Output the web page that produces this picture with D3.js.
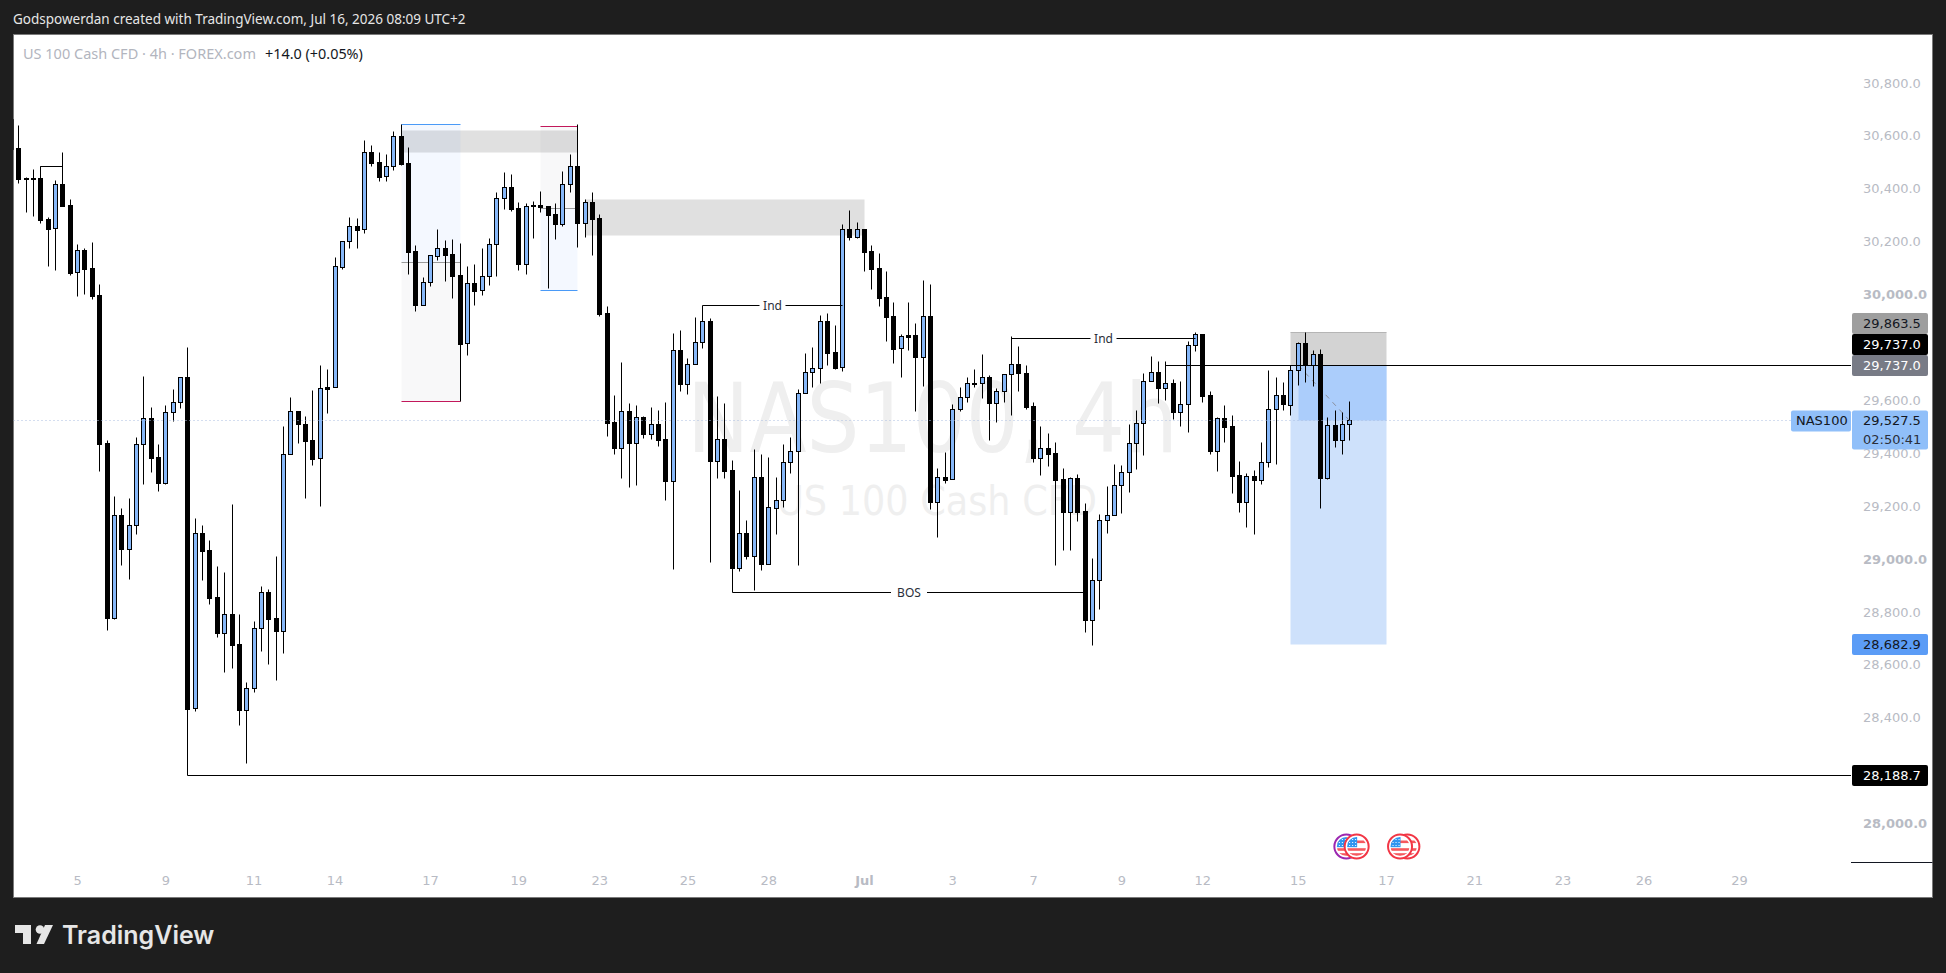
<!DOCTYPE html>
<html>
<head>
<meta charset="utf-8">
<script src="https://cdn.jsdelivr.net/npm/d3@7"></script>
<style>
  html, body { margin: 0; padding: 0; background: #1e1e1e; }
  svg { display: block; }
  text { font-family: "DejaVu Sans", sans-serif; }
</style>
</head>
<body>
<div id="Graph"></div>
<script>
// 4h candles
const opens = [
  30667,30557,30443,30443,30443,30288,30254,30420,30341,30088,
  30171,30103,30001,29441,28782,29169,29043,29131,29437,29536,
  29389,29292,29558,29596,29691,28439,29101,29037,28859,28725,
  28795,28681,28434,28515,28742,28878,28780,28733,29400,29562,
  29515,29452,29384,29653,29653,30109,30205,30263,30250,30541,
  30504,30451,30488,30603,30500,30167,29965,30050,30150,30178,
  30156,30076,29819,30046,30020,30073,30194,30368,30409,30330,
  30120,30341,30342,30338,30308,30271,30420,30490,30275,30354,
  30293,29934,29522,29425,29562,29443,29539,29477,29513,29456,
  29300,29793,29667,29740,29823,29903,29375,29456,29339,28971,
  29101,29016,29313,28986,29198,29226,29369,29411,29630,29710,
  29725,29903,29785,29728,30250,30222,30250,30167,30103,29993,
  29921,29800,29851,29850,29769,29921,29218,29314,29305,29570,
  29615,29668,29668,29691,29595,29638,29702,29740,29706,29581,
  29387,29422,29403,29305,29183,29309,29184,28774,28923,29150,
  29169,29282,29332,29441,29517,29676,29710,29651,29668,29561,
  29589,29812,29853,29622,29413,29536,29505,29320,29220,29316,
  29304,29369,29570,29623,29587,29717,29819,29736,29778,29311,
  29509,29455,29513];
const highs = [
  30667,30645,30447,30478,30490,30296,30436,30541,30364,30194,
  30178,30201,30042,29454,29242,29197,29234,29465,29696,29578,
  29439,29586,29646,29691,29805,29159,29132,29076,28977,28955,
  29212,28796,28539,28769,28902,28890,29015,29507,29616,29562,
  29544,29643,29737,29722,30146,30205,30297,30292,30588,30569,
  30543,30535,30622,30648,30561,30191,30069,30152,30251,30210,
  30214,30198,30112,30119,30178,30217,30391,30467,30459,30352,
  30349,30357,30395,30338,30350,30471,30535,30647,30365,30391,
  30308,29960,29624,29749,29594,29586,29543,29578,29567,29597,
  29858,29870,29764,29919,29963,29914,29620,29594,29378,29265,
  29151,29420,29401,29389,29315,29439,29465,29646,29783,29805,
  29926,29934,29888,30270,30323,30278,30250,30191,30161,30093,
  29975,29854,29975,29896,30059,30043,29348,29408,29589,29654,
  29692,29722,29779,29698,29650,29702,29847,29809,29737,29597,
  29507,29480,29446,29347,29313,29325,29214,29008,29173,29280,
  29363,29359,29514,29567,29706,29771,29752,29752,29683,29677,
  29827,29861,29853,29639,29541,29586,29548,29374,29329,29340,
  29446,29718,29692,29673,29736,29823,29862,29794,29798,29541,
  29567,29560,29601];
const lows = [
  30554,30426,30317,30302,30275,30113,30098,30340,30079,29999,
  30007,29988,29338,28736,28778,28982,28929,29099,29288,29333,
  29261,29288,29525,29575,28438,28430,28925,28835,28710,28578,
  28593,28377,28234,28502,28656,28608,28547,28649,29400,29443,
  29235,29359,29205,29557,29653,30100,30181,30181,30237,30491,
  30434,30434,30476,30493,30082,29943,29965,30037,30134,30055,
  29992,29601,29776,29964,30002,30040,30075,30328,30321,30098,
  30082,30219,30317,30030,30215,30264,30391,30184,30222,30153,
  29924,29470,29402,29311,29277,29285,29461,29459,29432,29227,
  28967,29639,29629,29740,29802,28992,29311,29311,28879,28960,
  29005,28888,28963,28986,29099,29201,29330,28982,29630,29655,
  29670,29738,29723,29716,30210,30218,30094,30026,29961,29829,
  29746,29693,29795,29564,29659,29194,29088,29291,29305,29562,
  29598,29655,29614,29455,29523,29598,29549,29640,29572,29372,
  29322,29356,28980,29039,29039,29148,28729,28680,28816,29103,
  29169,29179,29258,29345,29398,29676,29594,29605,29534,29508,
  29485,29789,29598,29401,29338,29447,29254,29183,29126,29099,
  29288,29353,29364,29568,29549,29663,29674,29658,29198,29307,
  29428,29402,29455];
const closes = [
  30554,30440,30441,30442,30287,30253,30420,30340,30086,30171,
  30101,29999,29440,28782,29169,29043,29131,29437,29536,29387,
  29292,29558,29596,29691,28438,29101,29035,28857,28725,28795,
  28680,28434,28515,28742,28878,28778,28733,29400,29562,29515,
  29451,29383,29649,29648,30110,30205,30262,30248,30541,30502,
  30449,30488,30602,30498,30166,29965,30050,30152,30178,30154,
  30075,29818,30046,30018,30073,30194,30368,30409,30328,30120,
  30337,30339,30336,30305,30271,30420,30488,30275,30352,30290,
  29931,29519,29425,29562,29443,29539,29477,29513,29455,29300,
  29793,29667,29740,29823,29903,29375,29456,29338,28971,29101,
  29016,29313,28986,29199,29226,29369,29411,29630,29710,29725,
  29903,29784,29726,30250,30222,30250,30166,30101,29992,29920,
  29799,29846,29844,29769,29921,29218,29313,29302,29570,29615,
  29668,29664,29691,29595,29638,29702,29740,29706,29580,29387,
  29422,29402,29304,29183,29309,29183,28774,28923,29150,29169,
  29282,29332,29441,29517,29676,29710,29651,29668,29561,29589,
  29812,29853,29621,29413,29536,29504,29319,29220,29316,29304,
  29369,29570,29623,29591,29717,29819,29736,29778,29311,29509,
  29455,29513,29527.5];

const priceTicks = [30800,30600,30400,30200,30000,29600,29400,29200,29000,28800,28600,28400,28000];
const timeLabels = ['5','9','11','14','17','19','23','25','28','Jul','3','7','9','12','15','17','21','23','26','29'];
const timeBars = [9,21,33,44,57,69,80,92,103,116,128,139,151,162,175,187,199,211,222,235];

// grey supply boxes: [from bar, to bar, top price, bottom price]
const zones = [[53,77,30626,30544],[78,116,30365,30229]];
// drawn lines with a name in the middle: [from bar, to bar, price, text]
const marks = [[94,113,29963,'Ind'],[136,161,29838,'Ind'],[98,146,28879,'BOS']];
// flat lines: [from bar, price]
const levels = [[24,28188.7],[157,29737]];
// position tools: [from bar, to bar, target, entry, stop, kind]
const positions = [[53,61,30647,30126,29601,'long'],[72,77,30640,30330,30020,'short']];
// right side labels: [text, price, fill, text colour]
const priceTags = [
  ['29,863.5',29863.5,'#9e9e9e','#131722'],
  ['29,737.0',29737,'#787b86','#ffffff'],
  ['29,737.0',29737,'#000000','#ffffff'],
  ['28,682.9',28682.9,'#5b9cf6','#131722'],
  ['28,188.7',28188.7,'#000000','#ffffff']];

const width = 1946;
const height = 973;
const paneLeft = 13.5;
const paneTop = 34.5;
const paneRight = 1932.5;
const paneBottom = 897.5;
const axisLeft = 1851;

const xScale = d3.scaleLinear().domain([1,182]).range([18.3,1349.3]);
const yScale = d3.scaleLinear().domain([28000,30000]).range([824.5,295.5]);
const col = (i) => Math.round(xScale(i)) + 0.5;
const row = (p) => Math.round(yScale(p)) + 0.5;

const svg = d3.select('#Graph').append('svg')
  .attr('width', width)
  .attr('height', height);

svg.append('defs').append('clipPath').attr('id','pane')
  .append('rect').attr('x',paneLeft).attr('y',paneTop)
  .attr('width',axisLeft-paneLeft).attr('height',paneBottom-paneTop);

// frame
svg.append('text').attr('x',13).attr('y',23.5)
  .style('font-family','"Noto Sans", sans-serif').style('font-size','13.5px').attr('fill','#e6e6e6')
  .text('Godspowerdan created with TradingView.com, Jul 16, 2026 08:09 UTC+2');
svg.append('rect').attr('x',paneLeft).attr('y',paneTop)
  .attr('width',paneRight-paneLeft).attr('height',paneBottom-paneTop)
  .attr('fill','#ffffff').attr('stroke','#7a7a7a');

// watermark
svg.append('text').attr('x',932.5).attr('y',451.5).attr('text-anchor','middle')
  .attr('textLength',491).attr('lengthAdjust','spacingAndGlyphs')
  .style('font-size','96px').attr('fill','#efefef').text('NAS100, 4h');
svg.append('text').attr('x',937).attr('y',515).attr('text-anchor','middle')
  .attr('textLength',320).attr('lengthAdjust','spacingAndGlyphs')
  .style('font-size','41px').attr('fill','#efefef').text('US 100 Cash CFD');

// legend
svg.append('text').attr('x',23).attr('y',58.5)
  .style('font-family','"Noto Sans", sans-serif').style('font-size','14.5px').attr('fill','#b2b5be')
  .text('US 100 Cash CFD · 4h · FOREX.com');
svg.append('text').attr('x',265).attr('y',58.5)
  .style('font-family','"Noto Sans", sans-serif').style('font-size','14.4px').attr('fill','#131722')
  .text('+14.0 (+0.05%)');

const pane = svg.append('g').attr('clip-path','url(#pane)');

// grey boxes
pane.selectAll('rect.zone').data(zones).join('rect').attr('class','zone')
  .attr('x',d => col(d[0])).attr('y',d => row(d[2]))
  .attr('width',d => col(d[1])-col(d[0])).attr('height',d => row(d[3])-row(d[2]))
  .attr('fill','#9e9e9e').attr('fill-opacity',0.32);

// position tools
positions.forEach(p => {
  const upper = p[5] === 'long' ? ['#4a8cf7',0.06] : ['#787b86',0.05];
  const lower = p[5] === 'long' ? ['#787b86',0.05] : ['#4a8cf7',0.06];
  pane.append('rect').attr('x',col(p[0])).attr('y',row(p[2]))
    .attr('width',col(p[1])-col(p[0])).attr('height',row(p[3])-row(p[2]))
    .attr('fill',upper[0]).attr('fill-opacity',upper[1]);
  pane.append('rect').attr('x',col(p[0])).attr('y',row(p[3]))
    .attr('width',col(p[1])-col(p[0])).attr('height',row(p[4])-row(p[3]))
    .attr('fill',lower[0]).attr('fill-opacity',lower[1]);
  pane.append('line').attr('x1',col(p[0])).attr('x2',col(p[1])).attr('y1',row(p[3])).attr('y2',row(p[3]))
    .attr('stroke','#9a9a9a');
  pane.append('line').attr('x1',col(p[0])).attr('x2',col(p[1])).attr('y1',row(p[2])).attr('y2',row(p[2]))
    .attr('stroke',p[5] === 'long' ? '#4a9af7' : '#c2185b');
  pane.append('line').attr('x1',col(p[0])).attr('x2',col(p[1])).attr('y1',row(p[4])).attr('y2',row(p[4]))
    .attr('stroke',p[5] === 'long' ? '#c2185b' : '#4a9af7');
});

// short position on the right
const shortFrom = 174, shortNow = 175, shortTo = 187;
pane.append('rect').attr('x',col(shortFrom)).attr('y',row(29863.5))
  .attr('width',col(shortTo)-col(shortFrom)).attr('height',row(29737)-row(29863.5)).attr('fill','#d3d3d3');
pane.append('line').attr('x1',col(shortFrom)).attr('x2',col(shortTo)).attr('y1',row(29863.5)).attr('y2',row(29863.5)).attr('stroke','#b5b5b5');
pane.append('rect').attr('x',col(shortFrom)).attr('y',row(29737))
  .attr('width',col(shortTo)-col(shortFrom)).attr('height',row(28682.9)-row(29737)).attr('fill','#cee1fb');
pane.append('rect').attr('x',col(shortNow)).attr('y',row(29737))
  .attr('width',col(shortTo)-col(shortNow)).attr('height',row(29527.5)-row(29737)).attr('fill','#abcdfb');
pane.append('line').attr('x1',col(shortNow)).attr('x2',col(182)).attr('y1',row(29737)).attr('y2',row(29527.5))
  .attr('stroke','#8a8f9c').attr('stroke-dasharray','5 5');

// wicks
const bars = d3.range(opens.length);
pane.selectAll('line.wick').data(bars).join('line').attr('class','wick')
  .attr('x1',col).attr('x2',col)
  .attr('y1',i => row(highs[i])).attr('y2',i => row(lows[i]))
  .attr('stroke','#000000');
// bodies
pane.selectAll('rect.body').data(bars).join('rect').attr('class','body')
  .attr('x',i => col(i)-2)
  .attr('y',i => row(Math.max(opens[i],closes[i])))
  .attr('width',4)
  .attr('height',i => row(Math.min(opens[i],closes[i]))-row(Math.max(opens[i],closes[i])))
  .attr('fill',i => closes[i] >= opens[i] ? '#86b7f8' : '#000000')
  .attr('stroke','#000000');

// small bracket top left
pane.append('path')
  .attr('d',`M${col(4)},${row(closes[2])}V${row(30490)}H${col(7)}`)
  .attr('fill','none').attr('stroke','#000000');

// lines with a name
marks.forEach(m => {
  const mid = (col(m[0])+col(m[1]))/2;
  const gap = m[3] === 'BOS' ? 18 : 13;
  pane.append('line').attr('x1',col(m[0])).attr('x2',mid-gap).attr('y1',row(m[2])).attr('y2',row(m[2])).attr('stroke','#000000');
  pane.append('line').attr('x1',mid+gap).attr('x2',col(m[1])).attr('y1',row(m[2])).attr('y2',row(m[2])).attr('stroke','#000000');
  pane.append('text').attr('x',mid).attr('y',row(m[2])+4.5).attr('text-anchor','middle')
    .style('font-family','"Noto Sans", sans-serif').style('font-size','12px').attr('fill','#2a2e39').text(m[3]);
});

// flat levels
levels.forEach(l => {
  pane.append('line').attr('x1',col(l[0])).attr('x2',axisLeft)
    .attr('y1',row(l[1])).attr('y2',row(l[1])).attr('stroke','#000000');
});
pane.append('line').attr('x1',col(24)).attr('x2',col(24))
  .attr('y1',row(lows[24])).attr('y2',row(28188.7)).attr('stroke','#000000');

// current price dots
pane.append('line').attr('x1',paneLeft).attr('x2',1791)
  .attr('y1',row(29527.5)).attr('y2',row(29527.5))
  .attr('stroke','#a9bce0').attr('stroke-dasharray','1 3');

// event flags, pinned to the bottom of the pane
const flagBars = [[181.6,'#9c27b0'],[183,'#f23645'],[189.9,'#f23645'],[188.9,'#f23645']];
flagBars.forEach((f,n) => {
  const g = svg.append('g').attr('transform',`translate(${xScale(f[0])},846.5)`);
  g.append('circle').attr('r',12).attr('fill','#ffffff').attr('stroke',f[1]).attr('stroke-width',2);
  g.append('clipPath').attr('id','flag'+n).append('circle').attr('r',9.5);
  const inner = g.append('g').attr('clip-path',`url(#flag${n})`);
  [[-6,2.6],[1.7,2.6],[6.7,2.6]].forEach(s => {
    inner.append('rect').attr('x',-10).attr('y',s[0]).attr('width',20).attr('height',s[1]).attr('fill','#f5595f');
  });
  inner.append('rect').attr('x',-10).attr('y',-10).attr('width',10.5).attr('height',10.7).attr('fill','#2f95f0');
  d3.cross([-7.5,-4.5,-1.5],[-7.5,-4.5,-1.5]).forEach(c => {
    inner.append('rect').attr('x',c[0]).attr('y',c[1]).attr('width',1).attr('height',1).attr('fill','#ffffff');
  });
});

// price axis
const yAxis = d3.axisRight(yScale).tickValues(priceTicks).tickSize(0).tickPadding(0)
  .tickFormat(d3.format(',.1f'));
const yG = svg.append('g').attr('transform','translate(1863,-1)').call(yAxis);
yG.select('.domain').remove();
yG.selectAll('text').style('font-size','13px')
  .style('font-family','"DejaVu Sans", sans-serif')
  .style('font-weight',d => d % 1000 === 0 ? 'bold' : 'normal')
  .attr('fill','#b8bbc4');

// time axis
const xAxis = d3.axisBottom(xScale).tickValues(timeBars).tickSize(0).tickPadding(0)
  .tickFormat((d,i) => timeLabels[i]);
const xG = svg.append('g').attr('transform','translate(0,876)').call(xAxis);
xG.select('.domain').remove();
xG.selectAll('text').style('font-size','13px')
  .style('font-family','"DejaVu Sans", sans-serif')
  .style('font-weight',d => d === 116 ? 'bold' : 'normal')
  .attr('fill','#b8bbc4');

svg.append('line').attr('x1',axisLeft).attr('x2',paneRight).attr('y1',862.5).attr('y2',862.5).attr('stroke','#131722');

// price labels
priceTags.forEach((t,n) => {
  const mid = t[0] === '29,737.0' ? (t[2] === '#000000' ? row(t[1])-21 : row(t[1])) : (t[0] === '29,863.5' ? row(t[1])-9 : row(t[1]));
  svg.append('rect').attr('x',axisLeft+1).attr('y',mid-10.5).attr('width',76).attr('height',21).attr('rx',2).attr('fill',t[2]);
  svg.append('text').attr('x',1863).attr('y',mid+4).style('font-size','13px').attr('fill',t[3]).text(t[0]);
});
svg.append('rect').attr('x',axisLeft+1).attr('y',row(29527.5)-10).attr('width',76).attr('height',39).attr('rx',2).attr('fill','#90bff9');
svg.append('text').attr('x',1863).attr('y',row(29527.5)+4.5).style('font-size','13px').attr('fill','#131722').text('29,527.5');
svg.append('text').attr('x',1863).attr('y',row(29527.5)+23.5).style('font-size','13px').attr('fill','#2a2e39').text('02:50:41');
svg.append('rect').attr('x',1791).attr('y',row(29527.5)-10).attr('width',60).attr('height',21).attr('rx',2).attr('fill','#90bff9');
svg.append('text').attr('x',1796).attr('y',row(29527.5)+4.5).style('font-size','13px').attr('fill','#131722').text('NAS100');

// logo
const logo = svg.append('g').attr('fill','#e6e6e6');
logo.append('path').attr('d','M15,925H31V944H23V933H15Z');
logo.append('circle').attr('cx',40).attr('cy',929.5).attr('r',4.3);
logo.append('path').attr('d','M45,925H53L44,944H36.5Z');
logo.append('text').attr('x',62).attr('y',944)
  .style('font-family','Inter, sans-serif').style('font-weight',600).style('font-size','25px').text('TradingView');
</script>
</body>
</html>
